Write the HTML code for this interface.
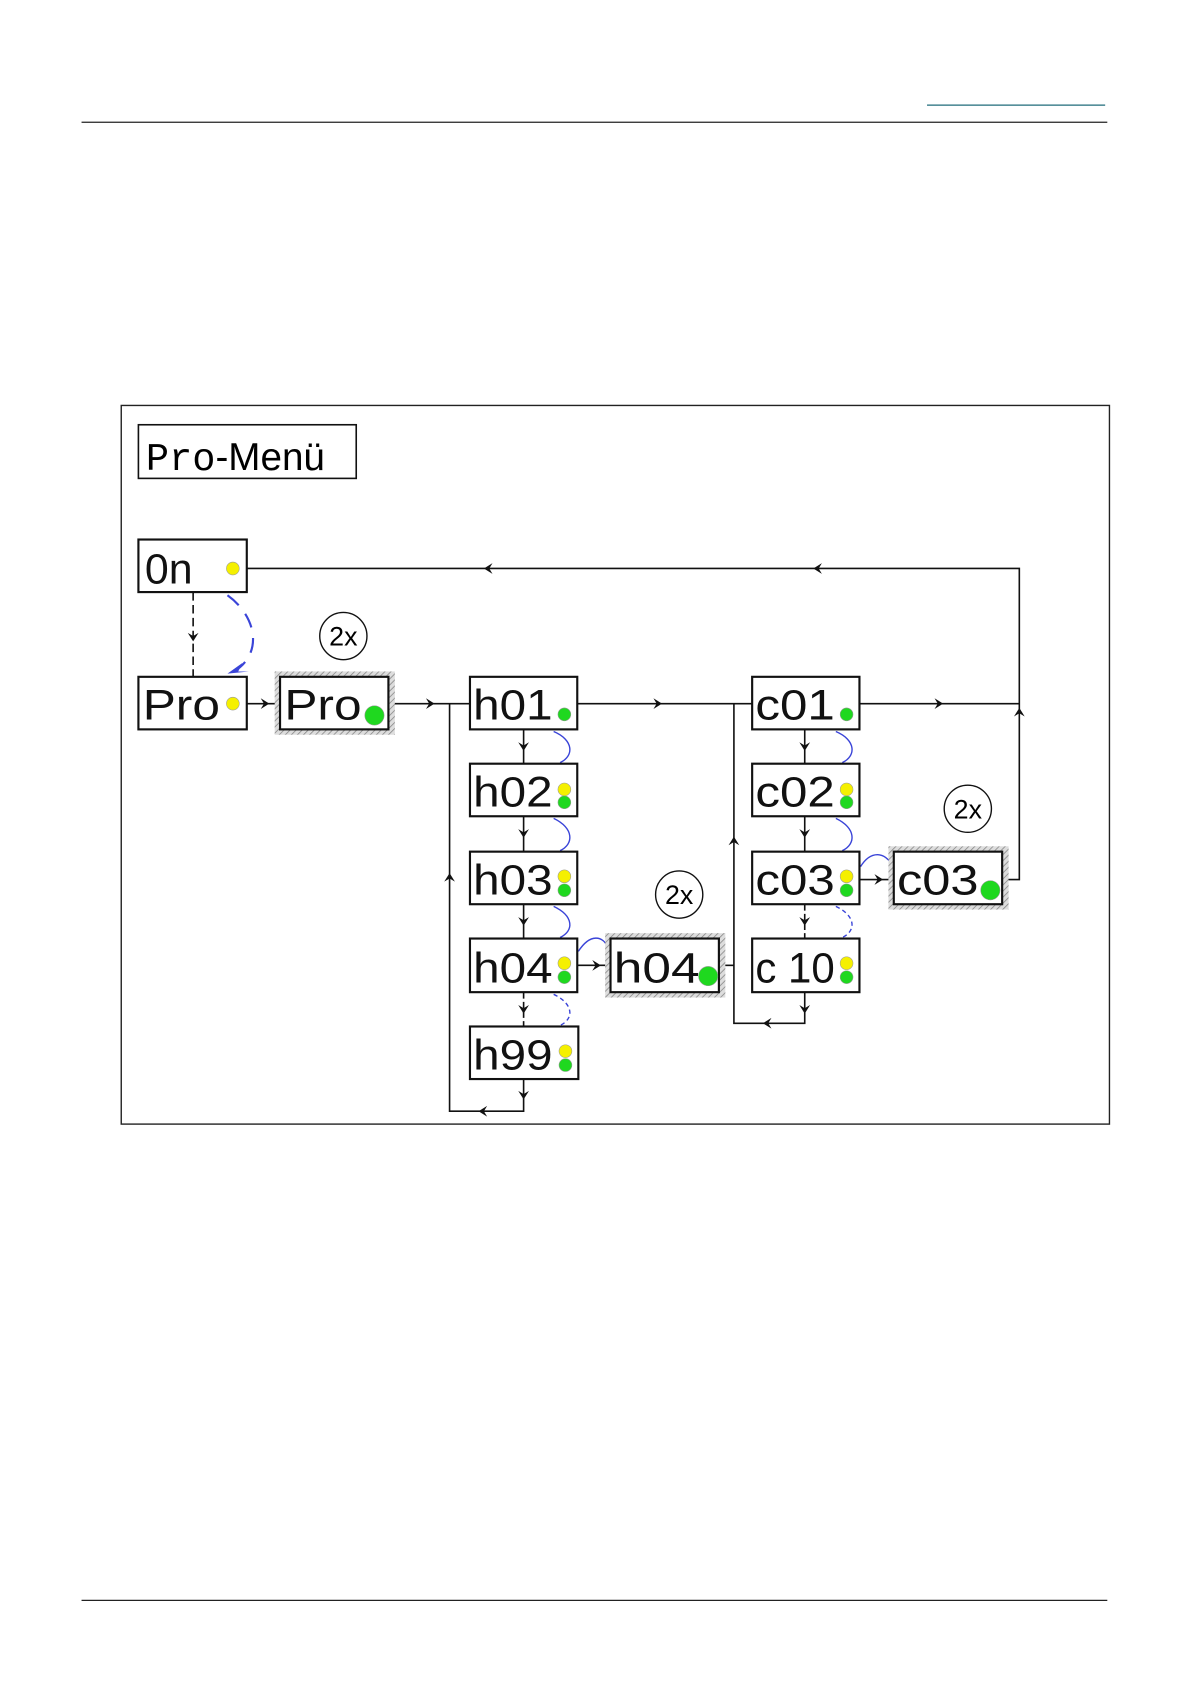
<!DOCTYPE html>
<html><head><meta charset="utf-8"><style>
html,body{margin:0;padding:0;background:#fff;}
svg{display:block;}
text{font-family:"Liberation Sans",sans-serif;}
.seg{font-family:"Liberation Mono",monospace;font-size:40px;font-weight:normal;}
</style></head><body>
<svg width="1191" height="1684" viewBox="0 0 1110 1570" preserveAspectRatio="none" xmlns="http://www.w3.org/2000/svg">
<defs>
<pattern id="hatch" width="4" height="4" patternUnits="userSpaceOnUse" patternTransform="rotate(45)">
<rect width="4" height="4" fill="#ddd"/><line x1="0" y1="0" x2="0" y2="4" stroke="#888" stroke-width="1.5"/>
</pattern>
</defs>
<line x1="864" y1="98" x2="1030" y2="98" stroke="#1f6b7a" stroke-width="1.2"/>
<line x1="76" y1="114" x2="1032" y2="114" stroke="#222" stroke-width="1.2"/>
<line x1="76" y1="1492" x2="1032" y2="1492" stroke="#222" stroke-width="1.2"/>
<rect x="113" y="378" width="921" height="670" fill="none" stroke="#222" stroke-width="1.3"/>
<rect x="129" y="396" width="203" height="50" fill="none" stroke="#111" stroke-width="1.5"/>
<text x="136" y="438" font-size="36"><tspan font-family="Liberation Mono">Pro</tspan>-Menü</text>

<g stroke="#111" stroke-width="1.5" fill="none">
<polyline points="230,530 950,530 950,820 934,820"/>
<line x1="180" y1="552" x2="180" y2="631" stroke-dasharray="8,4"/>
<line x1="230" y1="656" x2="261" y2="656"/>
<line x1="362" y1="656" x2="438" y2="656"/>
<polyline points="419,656 419,1036 488,1036 488,1006"/>
<line x1="538" y1="656" x2="701" y2="656"/>
<polyline points="684,656 684,954 750,954 750,925"/>
<line x1="801" y1="656" x2="950" y2="656"/>
<line x1="488" y1="680" x2="488" y2="712"/>
<line x1="488" y1="761" x2="488" y2="794"/>
<line x1="488" y1="843" x2="488" y2="875"/>
<line x1="488" y1="925" x2="488" y2="957" stroke-dasharray="6,3"/>
<line x1="750" y1="680" x2="750" y2="712"/>
<line x1="750" y1="761" x2="750" y2="794"/>
<line x1="750" y1="843" x2="750" y2="875" stroke-dasharray="6,3"/>
<line x1="538" y1="900" x2="569" y2="900"/>
<line x1="670" y1="900" x2="684" y2="900"/>
<line x1="801" y1="820" x2="833" y2="820"/>
</g>
<g fill="#111">
<path d="M451,530 l8,-5 l-3,5 l3,5z"/>
<path d="M758,530 l8,-5 l-3,5 l3,5z"/>
<path d="M950,660 l-5,8 l5,-3 l5,3z"/>
<path d="M180,598 l-5,-8 l5,3 l5,-3z"/>
<path d="M251,656 l-8,-5 l3,5 l-3,5z"/>
<path d="M405,656 l-8,-5 l3,5 l-3,5z"/>
<path d="M617,656 l-8,-5 l3,5 l-3,5z"/>
<path d="M879,656 l-8,-5 l3,5 l-3,5z"/>
<path d="M419,814 l-5,8 l5,-3 l5,3z"/>
<path d="M684,780 l-5,8 l5,-3 l5,3z"/>
<path d="M446,1036 l8,-5 l-3,5 l3,5z"/>
<path d="M711,954 l8,-5 l-3,5 l3,5z"/>
<path d="M488,1025 l-5,-8 l5,3 l5,-3z"/>
<path d="M750,945 l-5,-8 l5,3 l5,-3z"/>
<path d="M488,700 l-5,-8 l5,3 l5,-3z"/>
<path d="M488,781 l-5,-8 l5,3 l5,-3z"/>
<path d="M488,863 l-5,-8 l5,3 l5,-3z"/>
<path d="M488,945 l-5,-8 l5,3 l5,-3z"/>
<path d="M750,700 l-5,-8 l5,3 l5,-3z"/>
<path d="M750,781 l-5,-8 l5,3 l5,-3z"/>
<path d="M750,863 l-5,-8 l5,3 l5,-3z"/>
<path d="M560,900 l-8,-5 l3,5 l-3,5z"/>
<path d="M823,820 l-8,-5 l3,5 l-3,5z"/>
</g>
<g stroke="#3a44d8" stroke-width="1.3" fill="none">
<path d="M212,555 C240,575 245,610 218,626" stroke-width="2" stroke-dasharray="14,10"/>
<path d="M516,682 C535,690 535,705 522,711"/>
<path d="M516,763 C535,772 535,787 522,793"/>
<path d="M516,845 C535,854 535,868 522,874"/>
<path d="M516,927 C535,936 535,950 522,956" stroke-dasharray="4,3"/>
<path d="M779,682 C798,690 798,705 785,711"/>
<path d="M779,763 C798,772 798,787 785,793"/>
<path d="M779,845 C798,854 798,868 785,874" stroke-dasharray="4,3"/>
<path d="M539,887 C550,870 562,872 567,884"/>
<path d="M802,808 C812,792 825,795 831,806"/>
</g>
<path d="M212,628 l14,-10 l-4,8 l10,0z" fill="#3a44d8"/>
<g fill="#fff" stroke="#111" stroke-width="1.3">
<circle cx="320" cy="593" r="22"/><circle cx="633" cy="834" r="22"/><circle cx="902" cy="754" r="22"/>
</g>
<g font-size="25" text-anchor="middle"><text x="320" y="602">2x</text><text x="633" y="843">2x</text><text x="902" y="763">2x</text></g>
<rect x="256" y="626" width="112" height="59" fill="url(#hatch)"/>
<rect x="564" y="870" width="112" height="60" fill="url(#hatch)"/>
<rect x="828" y="789" width="112" height="59" fill="url(#hatch)"/>
<g fill="#fff" stroke="#111" stroke-width="2">
<rect x="129" y="503" width="101" height="49"/>
<rect x="129" y="631" width="101" height="49"/>
<rect x="261" y="631" width="101" height="49"/>
<rect x="438" y="631" width="100" height="49"/>
<rect x="438" y="712" width="100" height="49"/>
<rect x="438" y="794" width="100" height="49"/>
<rect x="438" y="875" width="100" height="50"/>
<rect x="438" y="957" width="101" height="49"/>
<rect x="569" y="875" width="101" height="50"/>
<rect x="701" y="631" width="100" height="49"/>
<rect x="701" y="712" width="100" height="49"/>
<rect x="701" y="794" width="100" height="49"/>
<rect x="701" y="875" width="100" height="50"/>
<rect x="833" y="794" width="101" height="49"/>
</g>
<g class="seg" fill="#111">
<text x="135" y="544">0n</text>
<text x="133" y="671" textLength="72" lengthAdjust="spacingAndGlyphs">Pro</text>
<text x="265" y="671" textLength="72" lengthAdjust="spacingAndGlyphs">Pro</text>
<text x="441" y="671" textLength="74" lengthAdjust="spacingAndGlyphs">h01</text>
<text x="441" y="752" textLength="74" lengthAdjust="spacingAndGlyphs">h02</text>
<text x="441" y="834" textLength="74" lengthAdjust="spacingAndGlyphs">h03</text>
<text x="441" y="916" textLength="74" lengthAdjust="spacingAndGlyphs">h04</text>
<text x="441" y="997" textLength="74" lengthAdjust="spacingAndGlyphs">h99</text>
<text x="572" y="916" textLength="80" lengthAdjust="spacingAndGlyphs">h04</text>
<text x="704" y="671" textLength="74" lengthAdjust="spacingAndGlyphs">c01</text>
<text x="704" y="752" textLength="74" lengthAdjust="spacingAndGlyphs">c02</text>
<text x="704" y="834" textLength="74" lengthAdjust="spacingAndGlyphs">c03</text>
<text x="704" y="916" textLength="74" lengthAdjust="spacingAndGlyphs">c 10</text>
<text x="836" y="834" textLength="76" lengthAdjust="spacingAndGlyphs">c03</text>
</g>
<g stroke="#999" stroke-width="0.5">
<circle cx="217" cy="530" r="6" fill="#f5f000"/>
<circle cx="217" cy="656" r="6" fill="#f5f000"/>
<circle cx="349" cy="667" r="9" fill="#1fd81f"/>
<circle cx="526" cy="666" r="6" fill="#1fd81f"/>
<circle cx="526" cy="736" r="6" fill="#f5f000"/><circle cx="526" cy="748" r="6" fill="#1fd81f"/>
<circle cx="526" cy="817" r="6" fill="#f5f000"/><circle cx="526" cy="830" r="6" fill="#1fd81f"/>
<circle cx="526" cy="898" r="6" fill="#f5f000"/><circle cx="526" cy="911" r="6" fill="#1fd81f"/>
<circle cx="527" cy="980" r="6" fill="#f5f000"/><circle cx="527" cy="993" r="6" fill="#1fd81f"/>
<circle cx="660" cy="910" r="9" fill="#1fd81f"/>
<circle cx="789" cy="666" r="6" fill="#1fd81f"/>
<circle cx="789" cy="736" r="6" fill="#f5f000"/><circle cx="789" cy="748" r="6" fill="#1fd81f"/>
<circle cx="789" cy="817" r="6" fill="#f5f000"/><circle cx="789" cy="830" r="6" fill="#1fd81f"/>
<circle cx="789" cy="898" r="6" fill="#f5f000"/><circle cx="789" cy="911" r="6" fill="#1fd81f"/>
<circle cx="923" cy="830" r="9" fill="#1fd81f"/>
</g>
</svg>
</body></html>
